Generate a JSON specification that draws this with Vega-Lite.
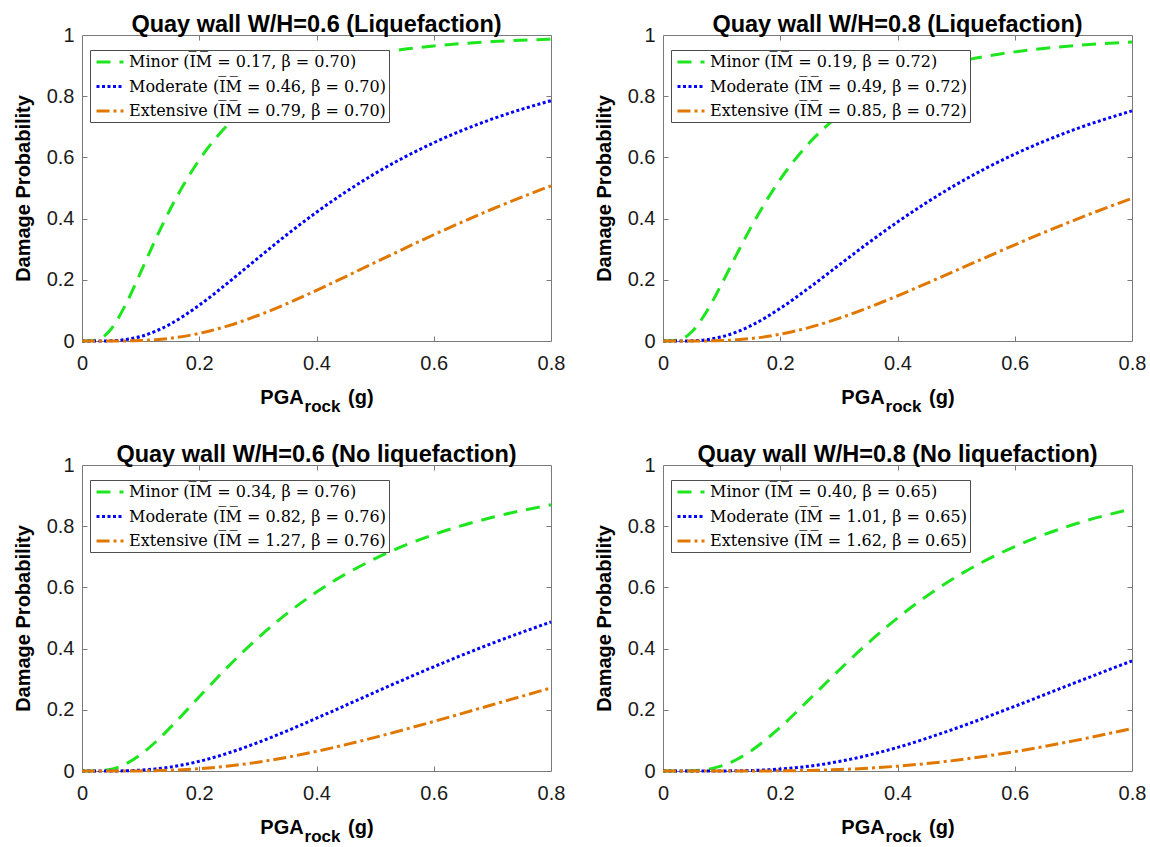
{
"$schema": "https://vega.github.io/schema/vega-lite/v6.json",
"background": "white",
"padding": {"left": 12, "top": 12, "right": 0, "bottom": 0},
"datasets": {"curves": [
{"p":1,"c":"Minor","x":0,"y":0},{"p":1,"c":"Minor","x":0.025,"y":0.0031},{"p":1,"c":"Minor","x":0.05,"y":0.0402},{"p":1,"c":"Minor","x":0.075,"y":0.1212},{"p":1,"c":"Minor","x":0.1,"y":0.2242},{"p":1,"c":"Minor","x":0.125,"y":0.3303},{"p":1,"c":"Minor","x":0.15,"y":0.429},{"p":1,"c":"Minor","x":0.2,"y":0.5918},{"p":1,"c":"Minor","x":0.25,"y":0.7092},{"p":1,"c":"Minor","x":0.3,"y":0.7914},{"p":1,"c":"Minor","x":0.35,"y":0.8489},{"p":1,"c":"Minor","x":0.4,"y":0.8892},{"p":1,"c":"Minor","x":0.5,"y":0.9384},{"p":1,"c":"Minor","x":0.6,"y":0.9642},{"p":1,"c":"Minor","x":0.7,"y":0.9784},{"p":1,"c":"Minor","x":0.8,"y":0.9865},
{"p":1,"c":"Moderate","x":0,"y":0},{"p":1,"c":"Moderate","x":0.025,"y":0},{"p":1,"c":"Moderate","x":0.05,"y":0.0008},{"p":1,"c":"Moderate","x":0.075,"y":0.0048},{"p":1,"c":"Moderate","x":0.1,"y":0.0146},{"p":1,"c":"Moderate","x":0.125,"y":0.0314},{"p":1,"c":"Moderate","x":0.15,"y":0.0547},{"p":1,"c":"Moderate","x":0.2,"y":0.117},{"p":1,"c":"Moderate","x":0.25,"y":0.1918},{"p":1,"c":"Moderate","x":0.3,"y":0.2707},{"p":1,"c":"Moderate","x":0.35,"y":0.3482},{"p":1,"c":"Moderate","x":0.4,"y":0.4209},{"p":1,"c":"Moderate","x":0.5,"y":0.5474},{"p":1,"c":"Moderate","x":0.6,"y":0.6479},{"p":1,"c":"Moderate","x":0.7,"y":0.7257},{"p":1,"c":"Moderate","x":0.8,"y":0.7854},
{"p":1,"c":"Extensive","x":0,"y":0},{"p":1,"c":"Extensive","x":0.025,"y":0},{"p":1,"c":"Extensive","x":0.05,"y":0},{"p":1,"c":"Extensive","x":0.075,"y":0.0004},{"p":1,"c":"Extensive","x":0.1,"y":0.0016},{"p":1,"c":"Extensive","x":0.125,"y":0.0042},{"p":1,"c":"Extensive","x":0.15,"y":0.0088},{"p":1,"c":"Extensive","x":0.2,"y":0.0249},{"p":1,"c":"Extensive","x":0.25,"y":0.0501},{"p":1,"c":"Extensive","x":0.3,"y":0.0833},{"p":1,"c":"Extensive","x":0.35,"y":0.1224},{"p":1,"c":"Extensive","x":0.4,"y":0.1655},{"p":1,"c":"Extensive","x":0.5,"y":0.2567},{"p":1,"c":"Extensive","x":0.6,"y":0.3472},{"p":1,"c":"Extensive","x":0.7,"y":0.4314},{"p":1,"c":"Extensive","x":0.8,"y":0.5072},
{"p":2,"c":"Minor","x":0,"y":0},{"p":2,"c":"Minor","x":0.025,"y":0.0024},{"p":2,"c":"Minor","x":0.05,"y":0.0319},{"p":2,"c":"Minor","x":0.075,"y":0.0983},{"p":2,"c":"Minor","x":0.1,"y":0.1863},{"p":2,"c":"Minor","x":0.125,"y":0.2805},{"p":2,"c":"Minor","x":0.15,"y":0.3713},{"p":2,"c":"Minor","x":0.2,"y":0.5284},{"p":2,"c":"Minor","x":0.25,"y":0.6484},{"p":2,"c":"Minor","x":0.3,"y":0.7371},{"p":2,"c":"Minor","x":0.35,"y":0.8019},{"p":2,"c":"Minor","x":0.4,"y":0.8494},{"p":2,"c":"Minor","x":0.5,"y":0.9105},{"p":2,"c":"Minor","x":0.6,"y":0.9449},{"p":2,"c":"Minor","x":0.7,"y":0.965},{"p":2,"c":"Minor","x":0.8,"y":0.9771},
{"p":2,"c":"Moderate","x":0,"y":0},{"p":2,"c":"Moderate","x":0.025,"y":0},{"p":2,"c":"Moderate","x":0.05,"y":0.0008},{"p":2,"c":"Moderate","x":0.075,"y":0.0046},{"p":2,"c":"Moderate","x":0.1,"y":0.0137},{"p":2,"c":"Moderate","x":0.125,"y":0.0289},{"p":2,"c":"Moderate","x":0.15,"y":0.0501},{"p":2,"c":"Moderate","x":0.2,"y":0.1066},{"p":2,"c":"Moderate","x":0.25,"y":0.175},{"p":2,"c":"Moderate","x":0.3,"y":0.2478},{"p":2,"c":"Moderate","x":0.35,"y":0.3201},{"p":2,"c":"Moderate","x":0.4,"y":0.389},{"p":2,"c":"Moderate","x":0.5,"y":0.5112},{"p":2,"c":"Moderate","x":0.6,"y":0.6108},{"p":2,"c":"Moderate","x":0.7,"y":0.6898},{"p":2,"c":"Moderate","x":0.8,"y":0.752},
{"p":2,"c":"Extensive","x":0,"y":0},{"p":2,"c":"Extensive","x":0.025,"y":0},{"p":2,"c":"Extensive","x":0.05,"y":0},{"p":2,"c":"Extensive","x":0.075,"y":0.0004},{"p":2,"c":"Extensive","x":0.1,"y":0.0015},{"p":2,"c":"Extensive","x":0.125,"y":0.0039},{"p":2,"c":"Extensive","x":0.15,"y":0.008},{"p":2,"c":"Extensive","x":0.2,"y":0.0222},{"p":2,"c":"Extensive","x":0.25,"y":0.0446},{"p":2,"c":"Extensive","x":0.3,"y":0.074},{"p":2,"c":"Extensive","x":0.35,"y":0.1089},{"p":2,"c":"Extensive","x":0.4,"y":0.1476},{"p":2,"c":"Extensive","x":0.5,"y":0.2306},{"p":2,"c":"Extensive","x":0.6,"y":0.3143},{"p":2,"c":"Extensive","x":0.7,"y":0.3937},{"p":2,"c":"Extensive","x":0.8,"y":0.4665},
{"p":3,"c":"Minor","x":0,"y":0},{"p":3,"c":"Minor","x":0.025,"y":0.0003},{"p":3,"c":"Minor","x":0.05,"y":0.0058},{"p":3,"c":"Minor","x":0.075,"y":0.0234},{"p":3,"c":"Minor","x":0.1,"y":0.0537},{"p":3,"c":"Minor","x":0.125,"y":0.094},{"p":3,"c":"Minor","x":0.15,"y":0.1408},{"p":3,"c":"Minor","x":0.2,"y":0.2425},{"p":3,"c":"Minor","x":0.25,"y":0.3429},{"p":3,"c":"Minor","x":0.3,"y":0.4346},{"p":3,"c":"Minor","x":0.35,"y":0.5152},{"p":3,"c":"Minor","x":0.4,"y":0.5847},{"p":3,"c":"Minor","x":0.5,"y":0.6941},{"p":3,"c":"Minor","x":0.6,"y":0.7726},{"p":3,"c":"Minor","x":0.7,"y":0.829},{"p":3,"c":"Minor","x":0.8,"y":0.8699},
{"p":3,"c":"Moderate","x":0,"y":0},{"p":3,"c":"Moderate","x":0.025,"y":0},{"p":3,"c":"Moderate","x":0.05,"y":0.0001},{"p":3,"c":"Moderate","x":0.075,"y":0.0008},{"p":3,"c":"Moderate","x":0.1,"y":0.0028},{"p":3,"c":"Moderate","x":0.125,"y":0.0067},{"p":3,"c":"Moderate","x":0.15,"y":0.0127},{"p":3,"c":"Moderate","x":0.2,"y":0.0317},{"p":3,"c":"Moderate","x":0.25,"y":0.059},{"p":3,"c":"Moderate","x":0.3,"y":0.0929},{"p":3,"c":"Moderate","x":0.35,"y":0.1313},{"p":3,"c":"Moderate","x":0.4,"y":0.1725},{"p":3,"c":"Moderate","x":0.5,"y":0.2576},{"p":3,"c":"Moderate","x":0.6,"y":0.3406},{"p":3,"c":"Moderate","x":0.7,"y":0.4175},{"p":3,"c":"Moderate","x":0.8,"y":0.4871},
{"p":3,"c":"Extensive","x":0,"y":0},{"p":3,"c":"Extensive","x":0.025,"y":0},{"p":3,"c":"Extensive","x":0.05,"y":0},{"p":3,"c":"Extensive","x":0.075,"y":0.0001},{"p":3,"c":"Extensive","x":0.1,"y":0.0004},{"p":3,"c":"Extensive","x":0.125,"y":0.0011},{"p":3,"c":"Extensive","x":0.15,"y":0.0025},{"p":3,"c":"Extensive","x":0.2,"y":0.0075},{"p":3,"c":"Extensive","x":0.25,"y":0.0162},{"p":3,"c":"Extensive","x":0.3,"y":0.0288},{"p":3,"c":"Extensive","x":0.35,"y":0.045},{"p":3,"c":"Extensive","x":0.4,"y":0.0642},{"p":3,"c":"Extensive","x":0.5,"y":0.11},{"p":3,"c":"Extensive","x":0.6,"y":0.1619},{"p":3,"c":"Extensive","x":0.7,"y":0.2166},{"p":3,"c":"Extensive","x":0.8,"y":0.2716},
{"p":4,"c":"Minor","x":0,"y":0},{"p":4,"c":"Minor","x":0.025,"y":0},{"p":4,"c":"Minor","x":0.05,"y":0.0007},{"p":4,"c":"Minor","x":0.075,"y":0.005},{"p":4,"c":"Minor","x":0.1,"y":0.0165},{"p":4,"c":"Minor","x":0.125,"y":0.0368},{"p":4,"c":"Minor","x":0.15,"y":0.0657},{"p":4,"c":"Minor","x":0.2,"y":0.1431},{"p":4,"c":"Minor","x":0.25,"y":0.2348},{"p":4,"c":"Minor","x":0.3,"y":0.329},{"p":4,"c":"Minor","x":0.35,"y":0.4186},{"p":4,"c":"Minor","x":0.4,"y":0.5},{"p":4,"c":"Minor","x":0.5,"y":0.6343},{"p":4,"c":"Minor","x":0.6,"y":0.7336},{"p":4,"c":"Minor","x":0.7,"y":0.8054},{"p":4,"c":"Minor","x":0.8,"y":0.8569},
{"p":4,"c":"Moderate","x":0,"y":0},{"p":4,"c":"Moderate","x":0.025,"y":0},{"p":4,"c":"Moderate","x":0.05,"y":0},{"p":4,"c":"Moderate","x":0.075,"y":0},{"p":4,"c":"Moderate","x":0.1,"y":0.0002},{"p":4,"c":"Moderate","x":0.125,"y":0.0007},{"p":4,"c":"Moderate","x":0.15,"y":0.0017},{"p":4,"c":"Moderate","x":0.2,"y":0.0064},{"p":4,"c":"Moderate","x":0.25,"y":0.0159},{"p":4,"c":"Moderate","x":0.3,"y":0.0309},{"p":4,"c":"Moderate","x":0.35,"y":0.0515},{"p":4,"c":"Moderate","x":0.4,"y":0.0771},{"p":4,"c":"Moderate","x":0.5,"y":0.1397},{"p":4,"c":"Moderate","x":0.6,"y":0.2115},{"p":4,"c":"Moderate","x":0.7,"y":0.2863},{"p":4,"c":"Moderate","x":0.8,"y":0.3599},
{"p":4,"c":"Extensive","x":0,"y":0},{"p":4,"c":"Extensive","x":0.025,"y":0},{"p":4,"c":"Extensive","x":0.05,"y":0},{"p":4,"c":"Extensive","x":0.075,"y":0},{"p":4,"c":"Extensive","x":0.1,"y":0},{"p":4,"c":"Extensive","x":0.125,"y":0},{"p":4,"c":"Extensive","x":0.15,"y":0.0001},{"p":4,"c":"Extensive","x":0.2,"y":0.0006},{"p":4,"c":"Extensive","x":0.25,"y":0.002},{"p":4,"c":"Extensive","x":0.3,"y":0.0047},{"p":4,"c":"Extensive","x":0.35,"y":0.0092},{"p":4,"c":"Extensive","x":0.4,"y":0.0157},{"p":4,"c":"Extensive","x":0.5,"y":0.0353},{"p":4,"c":"Extensive","x":0.6,"y":0.0633},{"p":4,"c":"Extensive","x":0.7,"y":0.0984},{"p":4,"c":"Extensive","x":0.8,"y":0.1389}
]},
"data": {"name": "curves"},
"columns": 2,
"spacing": {"row": 27, "column": 27},
"resolve": {"scale": {"color": "independent", "strokeDash": "independent"}},
"concat": [
{
 "width": 469, "height": 306,
 "title": {"text": "Quay wall W/H=0.6 (Liquefaction)"},
 "transform": [{"filter": "datum.p === 1"}],
 "layer": [
  {"mark": {"type": "line", "strokeWidth": 3, "interpolate": "monotone"},
   "encoding": {
    "x": {"field": "x", "type": "quantitative", "scale": {"domain": [0, 0.8], "nice": false, "zero": false}, "axis": {"orient": "bottom", "values": [0, 0.2, 0.4, 0.6, 0.8], "labelExpr": "'' + datum.value", "ticks": false, "labelPadding": 12, "labelFlush": false, "title": "PGA\u00a0\u00a0\u00a0\u00a0\u00a0\u00a0\u00a0\u00a0(g)", "titlePadding": 14}},
    "y": {"field": "y", "type": "quantitative", "scale": {"domain": [0, 1], "nice": false}, "axis": {"orient": "left", "values": [0, 0.2, 0.4, 0.6, 0.8, 1], "labelExpr": "'' + datum.value", "ticks": false, "labelPadding": 8, "labelFlush": false, "title": "Damage Probability", "titlePadding": 13}},
    "color": {"field": "c", "type": "nominal", "scale": {"domain": ["Minor", "Moderate", "Extensive"], "range": ["#1ee61e", "#0000ff", "#e07800"]}, "legend": {"labelExpr": "datum.label === 'Minor' ? 'Minor (I\u0305M\u0305 = 0.17, \u03b2 = 0.70)' : datum.label === 'Moderate' ? 'Moderate (I\u0305M\u0305 = 0.46, \u03b2 = 0.70)' : 'Extensive (I\u0305M\u0305 = 0.79, \u03b2 = 0.70)'"}},
    "strokeDash": {"field": "c", "type": "nominal", "scale": {"domain": ["Minor", "Moderate", "Extensive"], "range": [[14, 9], [3, 2.5], [13, 4, 3, 4]]}}
   }},
  {"mark": {"type": "line", "opacity": 0},
   "encoding": {
    "x": {"field": "x", "type": "quantitative", "scale": {"domain": [0, 0.8], "nice": false, "zero": false}, "axis": {"orient": "top", "values": [0.2, 0.4, 0.6], "labels": false, "title": null}},
    "y": {"field": "y", "type": "quantitative", "scale": {"domain": [0, 1], "nice": false}, "axis": {"orient": "right", "values": [0.2, 0.4, 0.6, 0.8], "labels": false, "title": null}}
   }},
  {"mark": {"type": "line", "opacity": 0},
   "encoding": {
    "x": {"field": "x", "type": "quantitative", "scale": {"domain": [0, 0.8], "nice": false, "zero": false}, "axis": {"orient": "bottom", "values": [0.2, 0.4, 0.6], "labels": false, "title": "rock", "titleFontSize": 17, "titlePadding": 57, "titleX": 240}},
    "y": {"field": "y", "type": "quantitative", "scale": {"domain": [0, 1], "nice": false}, "axis": {"orient": "left", "values": [0.2, 0.4, 0.6, 0.8], "labels": false, "title": null}}
   }}
 ],
 "resolve": {"axis": {"x": "independent", "y": "independent"}}
},
{
 "width": 469, "height": 306,
 "title": {"text": "Quay wall W/H=0.8 (Liquefaction)"},
 "transform": [{"filter": "datum.p === 2"}],
 "layer": [
  {"mark": {"type": "line", "strokeWidth": 3, "interpolate": "monotone"},
   "encoding": {
    "x": {"field": "x", "type": "quantitative", "scale": {"domain": [0, 0.8], "nice": false, "zero": false}, "axis": {"orient": "bottom", "values": [0, 0.2, 0.4, 0.6, 0.8], "labelExpr": "'' + datum.value", "ticks": false, "labelPadding": 12, "labelFlush": false, "title": "PGA\u00a0\u00a0\u00a0\u00a0\u00a0\u00a0\u00a0\u00a0(g)", "titlePadding": 14}},
    "y": {"field": "y", "type": "quantitative", "scale": {"domain": [0, 1], "nice": false}, "axis": {"orient": "left", "values": [0, 0.2, 0.4, 0.6, 0.8, 1], "labelExpr": "'' + datum.value", "ticks": false, "labelPadding": 8, "labelFlush": false, "title": "Damage Probability", "titlePadding": 13}},
    "color": {"field": "c", "type": "nominal", "scale": {"domain": ["Minor", "Moderate", "Extensive"], "range": ["#1ee61e", "#0000ff", "#e07800"]}, "legend": {"labelExpr": "datum.label === 'Minor' ? 'Minor (I\u0305M\u0305 = 0.19, \u03b2 = 0.72)' : datum.label === 'Moderate' ? 'Moderate (I\u0305M\u0305 = 0.49, \u03b2 = 0.72)' : 'Extensive (I\u0305M\u0305 = 0.85, \u03b2 = 0.72)'"}},
    "strokeDash": {"field": "c", "type": "nominal", "scale": {"domain": ["Minor", "Moderate", "Extensive"], "range": [[14, 9], [3, 2.5], [13, 4, 3, 4]]}}
   }},
  {"mark": {"type": "line", "opacity": 0},
   "encoding": {
    "x": {"field": "x", "type": "quantitative", "scale": {"domain": [0, 0.8], "nice": false, "zero": false}, "axis": {"orient": "top", "values": [0.2, 0.4, 0.6], "labels": false, "title": null}},
    "y": {"field": "y", "type": "quantitative", "scale": {"domain": [0, 1], "nice": false}, "axis": {"orient": "right", "values": [0.2, 0.4, 0.6, 0.8], "labels": false, "title": null}}
   }},
  {"mark": {"type": "line", "opacity": 0},
   "encoding": {
    "x": {"field": "x", "type": "quantitative", "scale": {"domain": [0, 0.8], "nice": false, "zero": false}, "axis": {"orient": "bottom", "values": [0.2, 0.4, 0.6], "labels": false, "title": "rock", "titleFontSize": 17, "titlePadding": 57, "titleX": 240}},
    "y": {"field": "y", "type": "quantitative", "scale": {"domain": [0, 1], "nice": false}, "axis": {"orient": "left", "values": [0.2, 0.4, 0.6, 0.8], "labels": false, "title": null}}
   }}
 ],
 "resolve": {"axis": {"x": "independent", "y": "independent"}}
},
{
 "width": 469, "height": 306,
 "title": {"text": "Quay wall W/H=0.6 (No liquefaction)"},
 "transform": [{"filter": "datum.p === 3"}],
 "layer": [
  {"mark": {"type": "line", "strokeWidth": 3, "interpolate": "monotone"},
   "encoding": {
    "x": {"field": "x", "type": "quantitative", "scale": {"domain": [0, 0.8], "nice": false, "zero": false}, "axis": {"orient": "bottom", "values": [0, 0.2, 0.4, 0.6, 0.8], "labelExpr": "'' + datum.value", "ticks": false, "labelPadding": 12, "labelFlush": false, "title": "PGA\u00a0\u00a0\u00a0\u00a0\u00a0\u00a0\u00a0\u00a0(g)", "titlePadding": 14}},
    "y": {"field": "y", "type": "quantitative", "scale": {"domain": [0, 1], "nice": false}, "axis": {"orient": "left", "values": [0, 0.2, 0.4, 0.6, 0.8, 1], "labelExpr": "'' + datum.value", "ticks": false, "labelPadding": 8, "labelFlush": false, "title": "Damage Probability", "titlePadding": 13}},
    "color": {"field": "c", "type": "nominal", "scale": {"domain": ["Minor", "Moderate", "Extensive"], "range": ["#1ee61e", "#0000ff", "#e07800"]}, "legend": {"labelExpr": "datum.label === 'Minor' ? 'Minor (I\u0305M\u0305 = 0.34, \u03b2 = 0.76)' : datum.label === 'Moderate' ? 'Moderate (I\u0305M\u0305 = 0.82, \u03b2 = 0.76)' : 'Extensive (I\u0305M\u0305 = 1.27, \u03b2 = 0.76)'"}},
    "strokeDash": {"field": "c", "type": "nominal", "scale": {"domain": ["Minor", "Moderate", "Extensive"], "range": [[14, 9], [3, 2.5], [13, 4, 3, 4]]}}
   }},
  {"mark": {"type": "line", "opacity": 0},
   "encoding": {
    "x": {"field": "x", "type": "quantitative", "scale": {"domain": [0, 0.8], "nice": false, "zero": false}, "axis": {"orient": "top", "values": [0.2, 0.4, 0.6], "labels": false, "title": null}},
    "y": {"field": "y", "type": "quantitative", "scale": {"domain": [0, 1], "nice": false}, "axis": {"orient": "right", "values": [0.2, 0.4, 0.6, 0.8], "labels": false, "title": null}}
   }},
  {"mark": {"type": "line", "opacity": 0},
   "encoding": {
    "x": {"field": "x", "type": "quantitative", "scale": {"domain": [0, 0.8], "nice": false, "zero": false}, "axis": {"orient": "bottom", "values": [0.2, 0.4, 0.6], "labels": false, "title": "rock", "titleFontSize": 17, "titlePadding": 57, "titleX": 240}},
    "y": {"field": "y", "type": "quantitative", "scale": {"domain": [0, 1], "nice": false}, "axis": {"orient": "left", "values": [0.2, 0.4, 0.6, 0.8], "labels": false, "title": null}}
   }}
 ],
 "resolve": {"axis": {"x": "independent", "y": "independent"}}
},
{
 "width": 469, "height": 306,
 "title": {"text": "Quay wall W/H=0.8 (No liquefaction)"},
 "transform": [{"filter": "datum.p === 4"}],
 "layer": [
  {"mark": {"type": "line", "strokeWidth": 3, "interpolate": "monotone"},
   "encoding": {
    "x": {"field": "x", "type": "quantitative", "scale": {"domain": [0, 0.8], "nice": false, "zero": false}, "axis": {"orient": "bottom", "values": [0, 0.2, 0.4, 0.6, 0.8], "labelExpr": "'' + datum.value", "ticks": false, "labelPadding": 12, "labelFlush": false, "title": "PGA\u00a0\u00a0\u00a0\u00a0\u00a0\u00a0\u00a0\u00a0(g)", "titlePadding": 14}},
    "y": {"field": "y", "type": "quantitative", "scale": {"domain": [0, 1], "nice": false}, "axis": {"orient": "left", "values": [0, 0.2, 0.4, 0.6, 0.8, 1], "labelExpr": "'' + datum.value", "ticks": false, "labelPadding": 8, "labelFlush": false, "title": "Damage Probability", "titlePadding": 13}},
    "color": {"field": "c", "type": "nominal", "scale": {"domain": ["Minor", "Moderate", "Extensive"], "range": ["#1ee61e", "#0000ff", "#e07800"]}, "legend": {"labelExpr": "datum.label === 'Minor' ? 'Minor (I\u0305M\u0305 = 0.40, \u03b2 = 0.65)' : datum.label === 'Moderate' ? 'Moderate (I\u0305M\u0305 = 1.01, \u03b2 = 0.65)' : 'Extensive (I\u0305M\u0305 = 1.62, \u03b2 = 0.65)'"}},
    "strokeDash": {"field": "c", "type": "nominal", "scale": {"domain": ["Minor", "Moderate", "Extensive"], "range": [[14, 9], [3, 2.5], [13, 4, 3, 4]]}}
   }},
  {"mark": {"type": "line", "opacity": 0},
   "encoding": {
    "x": {"field": "x", "type": "quantitative", "scale": {"domain": [0, 0.8], "nice": false, "zero": false}, "axis": {"orient": "top", "values": [0.2, 0.4, 0.6], "labels": false, "title": null}},
    "y": {"field": "y", "type": "quantitative", "scale": {"domain": [0, 1], "nice": false}, "axis": {"orient": "right", "values": [0.2, 0.4, 0.6, 0.8], "labels": false, "title": null}}
   }},
  {"mark": {"type": "line", "opacity": 0},
   "encoding": {
    "x": {"field": "x", "type": "quantitative", "scale": {"domain": [0, 0.8], "nice": false, "zero": false}, "axis": {"orient": "bottom", "values": [0.2, 0.4, 0.6], "labels": false, "title": "rock", "titleFontSize": 17, "titlePadding": 57, "titleX": 240}},
    "y": {"field": "y", "type": "quantitative", "scale": {"domain": [0, 1], "nice": false}, "axis": {"orient": "left", "values": [0.2, 0.4, 0.6, 0.8], "labels": false, "title": null}}
   }}
 ],
 "resolve": {"axis": {"x": "independent", "y": "independent"}}
}
],
"config": {
 "view": {"stroke": "#7a7a7a", "strokeWidth": 1},
 "axis": {"grid": false, "domain": false, "labelFont": "Liberation Sans", "labelFontSize": 20, "labelColor": "#1a1a1a", "titleFont": "Liberation Sans", "titleFontSize": 20, "titleFontWeight": "bold", "titleColor": "#000000", "tickColor": "#7a7a7a", "tickSize": -5, "tickWidth": 1},
 "title": {"font": "Liberation Sans", "fontSize": 23.5, "fontWeight": "bold", "color": "#000000", "anchor": "middle", "baseline": "alphabetic", "offset": -11},
 "legend": {"orient": "none", "legendX": 8, "legendY": 15, "direction": "vertical", "title": null, "symbolType": "M-1.8,0H1.8", "symbolSize": 225, "symbolOffset": 8, "symbolStrokeWidth": 3, "labelFont": "DejaVu Serif", "labelFontSize": 16, "labelColor": "#000000", "labelLimit": 500, "labelOffset": 10, "fillColor": "#ffffff", "strokeColor": "#4d4d4d", "padding": 3, "rowPadding": 7.5, "cornerRadius": 0}
}
}
